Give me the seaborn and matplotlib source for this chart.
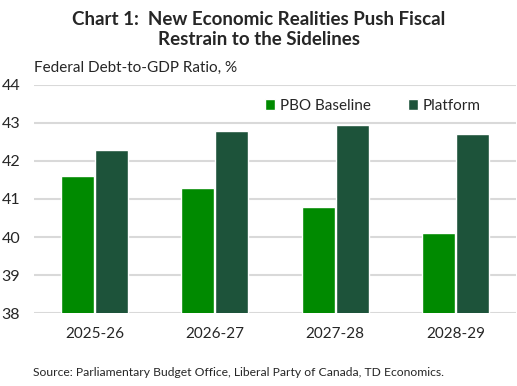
import pandas as pd
import seaborn as sns
import matplotlib.pyplot as plt

sns.set_style("white")
plt.rcParams['font.family'] = ['Lato', 'DejaVu Sans']

# Data
years = ["2025-26", "2026-27", "2027-28", "2028-29"]
pbo_baseline = [41.6, 41.3, 40.8, 40.1]
platform = [42.3, 42.8, 42.95, 42.7]

df = pd.DataFrame({
    "Year": years * 2,
    "Value": pbo_baseline + platform,
    "Series": ["PBO Baseline"] * 4 + ["Platform"] * 4,
})

fig = plt.figure(figsize=(5.17, 3.86), dpi=100)
ax = fig.add_axes([0.066, 0.189, 0.932, 0.591])

sns.barplot(data=df, x="Year", y="Value", hue="Series",
            palette=["#008a00", "#1d533a"], width=0.564, gap=0.03,
            saturation=1, ax=ax)

ax.set_ylim(38, 44)
ax.set_yticks(range(38, 45))
ax.grid(axis='y', color='#d9d9d9', linewidth=1.5)
ax.set_axisbelow(True)
sns.despine(ax=ax, left=True, bottom=True)
ax.tick_params(axis='y', length=0, pad=10, labelsize=11.5)
ax.tick_params(axis='x', length=0, pad=10, labelsize=11)
ax.set_xlabel("")
ax.set_ylabel("")

ax.legend(loc='upper left', bbox_to_anchor=(0.45, 1.0), ncol=2, frameon=False,
          handlelength=0.7, handleheight=0.7, handletextpad=0.3,
          columnspacing=2.4, fontsize=11)

fig.text(0.5, 0.972, "Chart 1:  New Economic Realities Push Fiscal\nRestrain to the Sidelines",
         ha='center', va='top', fontsize=13.5, fontweight='bold', linespacing=1.2)
fig.text(0.066, 0.825, "Federal Debt-to-GDP Ratio, %", ha='left', va='center', fontsize=11)
fig.text(0.064, 0.036, "Source: Parliamentary Budget Office, Liberal Party of Canada, TD Economics.",
         ha='left', va='center', fontsize=8.7)

fig.savefig("out.png", dpi=100)
